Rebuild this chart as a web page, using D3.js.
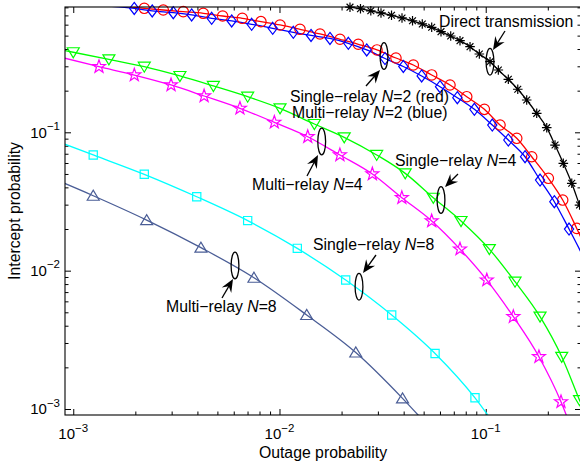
<!DOCTYPE html>
<html><head><meta charset="utf-8">
<script src="https://cdn.jsdelivr.net/npm/d3@7"></script>
<style>
body{margin:0;background:#fff;}
svg{display:block;font-family:"Liberation Sans",Arial,Helvetica,sans-serif;}
</style>
</head><body><div id="chart"></div>
<script>
// ---------------- DATA ----------------
const xMajorTicks = [1e-3, 1e-2, 1e-1];
const yMajorTicks = [1e-3, 1e-2, 1e-1];
const xTickLabels = [["10","−3"],["10","−2"],["10","−1"]];
const yTickLabels = [["10","−3"],["10","−2"],["10","−1"]];
const xAxisTitle = "Outage probability";
const yAxisTitle = "Intercept probability";

// Direct transmission (black, asterisk)
const directOutage = [0.01662,0.02197,0.0247,0.02772,0.03106,0.03493,0.03927,0.04416,0.04925,0.0547,0.06069,0.06764,0.07503,0.08392,0.09312,0.1049,0.1151,0.1287,0.143,0.158,0.1767,0.1976,0.2168,0.2378,0.2613,0.285,0.3278];
const directIntercept = [0.8754,0.8026,0.7816,0.7559,0.7288,0.7015,0.6707,0.6401,0.6069,0.5744,0.5338,0.4968,0.4596,0.4158,0.3683,0.324,0.2822,0.2416,0.2047,0.1712,0.1372,0.108,0.0809,0.0597,0.0428,0.0298,0.01665];

// Single-relay N=2 (red, circle)
const single2Outage = [0.001507,0.00221,0.002732,0.003416,0.00427,0.0053,0.0066,0.00813,0.01006,0.01257,0.01572,0.01965,0.0241,0.0297,0.0367,0.04456,0.0547,0.0671,0.0809,0.0985,0.1173,0.1414,0.1671,0.2012,0.2362,0.2763,0.358];
const single2Intercept = [0.8324,0.788,0.766,0.745,0.725,0.693,0.667,0.6306,0.5968,0.5555,0.5137,0.4705,0.4329,0.3937,0.3444,0.3066,0.2597,0.2198,0.1809,0.1466,0.1129,0.0905,0.0666,0.0465,0.0324,0.0202,0.00855];

// Multi-relay N=2 (blue, diamond)
const multi2Outage = [0.001348,0.001976,0.002415,0.003055,0.00375,0.00469,0.005864,0.00733,0.00927,0.01167,0.01422,0.01757,0.02157,0.02648,0.03248,0.03985,0.0489,0.06004,0.07283,0.0881,0.1076,0.1287,0.1551,0.1834,0.2151,0.2535,0.358];
const multi2Intercept = [0.8257,0.7855,0.7536,0.7325,0.7051,0.667,0.638,0.6039,0.5649,0.5284,0.5012,0.4767,0.44,0.3937,0.3416,0.2991,0.2554,0.2137,0.1779,0.1466,0.1129,0.088,0.0666,0.0452,0.0315,0.02,0.00724];

// Single-relay N=4 (green, triangle down)
const single4Outage = [0.000689,0.001,0.001489,0.00221,0.00329,0.00478,0.00701,0.01006,0.01476,0.0206,0.0296,0.0407,0.0557,0.0759,0.1041,0.1387,0.1834,0.2336,0.285,0.345];
const single4Intercept = [0.4207,0.379,0.337,0.298,0.2553,0.2163,0.1809,0.1491,0.1148,0.092,0.0686,0.0505,0.03365,0.02286,0.01432,0.00832,0.00465,0.002385,0.001159,0.000596];

// Multi-relay N=4 (magenta, pentagram)
const multi4Outage = [0.000689,0.001333,0.001977,0.00298,0.00431,0.00643,0.00944,0.01371,0.01963,0.0282,0.0392,0.0547,0.075,0.1012,0.1361,0.1811,0.2317,0.262];
const multi4Intercept = [0.3806,0.298,0.2594,0.2198,0.183,0.1491,0.118,0.0929,0.0686,0.04995,0.03365,0.02286,0.01432,0.00855,0.00465,0.002385,0.001127,0.000704];

// Single-relay N=8 (cyan, square)
const single8Outage = [0.000689,0.00125,0.00221,0.00397,0.00701,0.0122,0.02094,0.035,0.0568,0.0887,0.1172];
const single8Intercept = [0.0959,0.0686,0.0497,0.0342,0.023,0.01449,0.00855,0.00478,0.00252,0.001205,0.00068];

// Multi-relay N=8 (slate, triangle up)
const multi8Outage = [0.000689,0.00125,0.00227,0.00416,0.00752,0.01355,0.02344,0.0395,0.0537];
const multi8Intercept = [0.0508,0.0348,0.0232,0.01466,0.00889,0.00478,0.00256,0.001194,0.000728];

// ---------------- LAYOUT ----------------
const W = 580, H = 464;
const L = 65, R = 581, T = 7, B = 415;
const x = d3.scaleLog().domain([9.12e-4, 0.2897]).range([L, R]);
const y = d3.scaleLog().domain([9.05e-4, 0.805]).range([B, T]);

const series = [
  {xs: directOutage,  ys: directIntercept,  color: "#000000", marker: "asterisk"},
  {xs: single2Outage, ys: single2Intercept, color: "#ff0000", marker: "circle"},
  {xs: multi2Outage,  ys: multi2Intercept,  color: "#0000ff", marker: "diamond"},
  {xs: single4Outage, ys: single4Intercept, color: "#00ff00", marker: "tridown"},
  {xs: multi4Outage,  ys: multi4Intercept,  color: "#ff00ff", marker: "star"},
  {xs: single8Outage, ys: single8Intercept, color: "#00ffff", marker: "square"},
  {xs: multi8Outage,  ys: multi8Intercept,  color: "#4a5d96", marker: "triup"}
];

const svg = d3.select("#chart").append("svg").attr("width", W).attr("height", H);
svg.append("rect").attr("width", W).attr("height", H).attr("fill", "#fff");
svg.append("clipPath").attr("id","plotclip").append("rect")
  .attr("x", L).attr("y", T).attr("width", R-L).attr("height", B-T);

// ticks
function minorVals(dom){
  const out=[];
  for(let k=-5;k<=1;k++) for(let m=2;m<=9;m++){const v=m*Math.pow(10,k); if(v>=dom[0]&&v<=dom[1]) out.push(v);}
  return out;
}
const xMinor = minorVals(x.domain()), yMinor = minorVals(y.domain());
function addAxis(gen, scale, vals, len, tx, ty){
  const g = svg.append("g").attr("transform", `translate(${tx},${ty})`)
    .call(gen(scale).tickValues(vals).tickSize(-len).tickSizeOuter(0).tickFormat(""));
  g.select(".domain").remove();
  g.selectAll(".tick line").attr("stroke","#000").attr("stroke-width",1);
}
addAxis(d3.axisBottom, x, xMajorTicks, 6, 0, B);
addAxis(d3.axisBottom, x, xMinor, 3.5, 0, B);
addAxis(d3.axisTop, x, xMajorTicks, 6, 0, T);
addAxis(d3.axisTop, x, xMinor, 3.5, 0, T);
addAxis(d3.axisLeft, y, yMajorTicks, 6, L, 0);
addAxis(d3.axisLeft, y, yMinor, 3.5, L, 0);
addAxis(d3.axisRight, y, yMajorTicks, 6, R, 0);
addAxis(d3.axisRight, y, yMinor, 3.5, R, 0);

// lines
const lineGen = d3.line().x(d=>x(d[0])).y(d=>y(d[1])).curve(d3.curveMonotoneX);
const linesG = svg.append("g").attr("clip-path","url(#plotclip)");
series.forEach(s=>{
  const pts = s.xs.map((v,i)=>[v, s.ys[i]]);
  linesG.append("path").attr("d", lineGen(pts)).attr("fill","none")
    .attr("stroke", s.color).attr("stroke-width", 1.3);
});

// markers
function markerPath(type){
  switch(type){
    case "circle": return "M5.2,0A5.2,5.2 0 1,1 -5.2,0A5.2,5.2 0 1,1 5.2,0Z";
    case "diamond": return "M0,-6L4.6,0L0,6L-4.6,0Z";
    case "square": return "M-4.1,-4.1H4.1V4.1H-4.1Z";
    case "tridown": return "M-6,-4.5L6,-4.5L0,5.5Z";
    case "triup": return "M-6,4.5L6,4.5L0,-5.5Z";
    case "star": {
      let p=""; const Ro=6.8, Ri=2.7;
      for(let i=0;i<10;i++){const r=i%2?Ri:Ro; const a=-Math.PI/2+i*Math.PI/5;
        p += (i?"L":"M")+(r*Math.cos(a)).toFixed(2)+","+(r*Math.sin(a)).toFixed(2);}
      return p+"Z";
    }
    case "asterisk": {
      const r=4.8, d=r*0.7071;
      return `M0,${-r}V${r}M${-r},0H${r}M${-d},${-d}L${d},${d}M${-d},${d}L${d},${-d}`;
    }
  }
}
const [xd0,xd1]=x.domain(), [yd0,yd1]=y.domain();
series.forEach(s=>{
  const pts = s.xs.map((v,i)=>[v, s.ys[i]]).filter(d=>d[0]>=xd0&&d[0]<=xd1&&d[1]>=yd0&&d[1]<=yd1);
  svg.append("g").selectAll("path").data(pts).join("path")
    .attr("transform", d=>`translate(${x(d[0])},${y(d[1])})`)
    .attr("d", markerPath(s.marker)).attr("fill","none")
    .attr("stroke", s.color).attr("stroke-width", 1.2);
});

// box
svg.append("rect").attr("x",L).attr("y",T).attr("width",R-L).attr("height",B-T)
  .attr("fill","none").attr("stroke","#000").attr("stroke-width",1.1);

// tick labels
xMajorTicks.forEach((v,i)=>{
  const t = svg.append("text").attr("x", x(v)).attr("y", 439.3).attr("text-anchor","middle")
    .attr("font-size",15).attr("fill","#000");
  t.append("tspan").text(xTickLabels[i][0]);
  t.append("tspan").attr("dy",-7.7).attr("font-size",11.5).text(xTickLabels[i][1]);
});
yMajorTicks.forEach((v,i)=>{
  const t = svg.append("text").attr("x", 60).attr("y", y(v)+5.4).attr("text-anchor","end")
    .attr("font-size",15).attr("fill","#000");
  t.append("tspan").text(yTickLabels[i][0]);
  t.append("tspan").attr("dy",-7.7).attr("font-size",11.5).text(yTickLabels[i][1]);
});

// axis titles
svg.append("text").attr("x",(L+R)/2).attr("y",458.3).attr("text-anchor","middle")
  .attr("font-size",15.8).text(xAxisTitle);
svg.append("text").attr("transform",`translate(19.5,${(T+B)/2}) rotate(-90)`).attr("text-anchor","middle")
  .attr("font-size",15.8).text(yAxisTitle);

// annotations: ellipses, arrows, labels
const ellipses = [[490,61.7],[384,56],[321.7,141.5],[441,200],[359,286.7],[235,265.5]];
const arrows = [[505,31,493,50],[366,86,380,70],[307,176,318,155],[458,174,445,187],[376,255,363,273],[222,298,233,279]];
const labels = [
  {x:439, y:27, parts:[["Direct transmission",false]]},
  {x:290, y:101.5, parts:[["Single−relay ",false],["N",true],["=2 (red)",false]]},
  {x:292, y:117.5, parts:[["Multi−relay ",false],["N",true],["=2 (blue)",false]]},
  {x:252, y:189.5, parts:[["Multi−relay ",false],["N",true],["=4",false]]},
  {x:395, y:166, parts:[["Single−relay ",false],["N",true],["=4",false]]},
  {x:313, y:250, parts:[["Single−relay ",false],["N",true],["=8",false]]},
  {x:166, y:312, parts:[["Multi−relay ",false],["N",true],["=8",false]]}
];
ellipses.forEach(e=>svg.append("ellipse").attr("cx",e[0]).attr("cy",e[1]).attr("rx",3.9).attr("ry",13.4)
  .attr("fill","none").attr("stroke","#000").attr("stroke-width",1.3));
arrows.forEach(a=>{
  const [x0,y0,x1,y1]=a; const ang=Math.atan2(y1-y0,x1-x0)*180/Math.PI;
  const len=Math.hypot(x1-x0,y1-y0);
  const g=svg.append("g").attr("transform",`translate(${x1},${y1}) rotate(${ang})`);
  g.append("line").attr("x1",-len).attr("y1",0).attr("x2",-7).attr("y2",0).attr("stroke","#000").attr("stroke-width",1.3);
  g.append("path").attr("d","M0,0L-13,-5.5L-8.5,0L-13,5.5Z").attr("fill","#000");
});
labels.forEach(l=>{
  const t=svg.append("text").attr("x",l.x).attr("y",l.y).attr("font-size",15.8).attr("fill","#000");
  l.parts.forEach(p=>t.append("tspan").attr("font-style",p[1]?"italic":"normal").text(p[0]));
});
</script>
</body></html>
